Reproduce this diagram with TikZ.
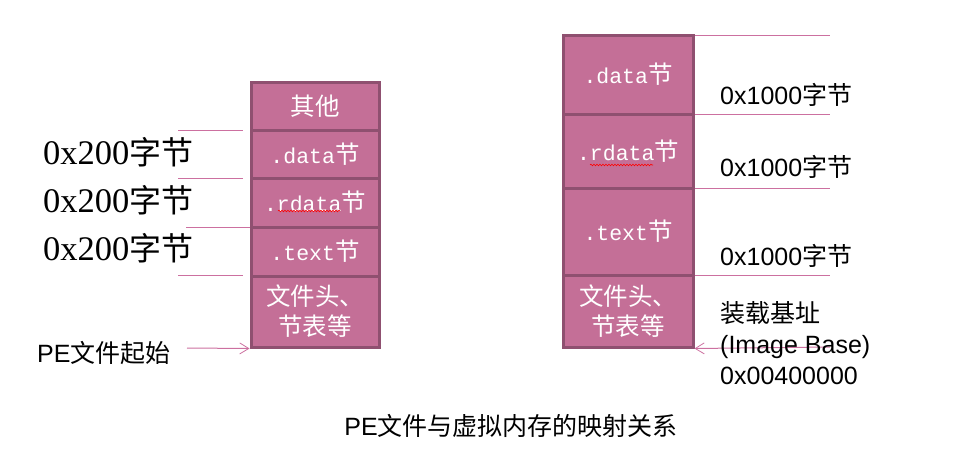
\documentclass[tikz,border=0pt]{standalone}
\usepackage{fontspec}
\setmainfont{Liberation Sans}
\newfontfamily\cjk{Noto Sans CJK SC}
\newfontfamily\monof{Liberation Mono}
\newfontfamily\seriff{Liberation Serif}
\usetikzlibrary{arrows.meta,decorations.pathmorphing}
\definecolor{cellfill}{RGB}{196,111,151}
\definecolor{celledge}{RGB}{143,80,112}
\definecolor{guide}{RGB}{204,112,160}
\newcommand{\mt}[1]{{\monof\fontsize{21.5}{30}\selectfont #1}}
\newcommand{\dg}[1]{{\seriff\fontsize{34.5}{36}\selectfont #1}}
\begin{document}
\begin{tikzpicture}[x=1pt,y=-1pt,
  cell/.style={draw=celledge, line width=3pt, fill=cellfill, text=white,
    inner sep=0pt, align=center, font=\fontsize{24.5}{30}\selectfont},
  guideline/.style={draw=guide, line width=1pt},
  guidearrow/.style={draw=guide, line width=1pt, -{Straight Barb[length=9pt,width=11pt,line width=0.8pt]}},
  leftlab/.style={anchor=west, inner sep=0pt, font=\fontsize{32}{36}\selectfont},
  rightlab/.style={anchor=west, inner sep=0pt, font=\fontsize{25}{31}\selectfont, align=left},
  squiggle/.style={draw=red, line width=0.6pt, decorate, decoration={snake, amplitude=0.8pt, segment length=3pt}}
]
\useasboundingbox (0,0) rectangle (960,453);
% left stack (PE file)
\node[cell, minimum width=128pt, minimum height=48pt] (l1) at (315,106) {\cjk 其他};
\node[cell, minimum width=128pt, minimum height=48pt] (l2) at (315,154) {\mt{.data}\cjk 节};
\node[cell, minimum width=128pt, minimum height=49pt] (l3) at (315,202.5) {\mt{.rdata}\cjk 节};
\node[cell, minimum width=128pt, minimum height=49pt] (l4) at (315,251.5) {\mt{.text}\cjk 节};
\node[cell, minimum width=128pt, minimum height=71pt] (l5) at (315,311.5) {\cjk 文件头、\\\cjk 节表等};
% right stack (memory)
\node[cell, minimum width=130pt, minimum height=79pt] (r1) at (628,74.5) {\mt{.data}\cjk 节};
\node[cell, minimum width=130pt, minimum height=74pt] (r2) at (628,151) {\mt{.rdata}\cjk 节};
\node[cell, minimum width=130pt, minimum height=87pt] (r3) at (628,231.5) {\mt{.text}\cjk 节};
\node[cell, minimum width=130pt, minimum height=72pt] (r4) at (628,311) {\cjk 文件头、\\\cjk 节表等};
% spell-check squiggles
\draw[squiggle] (278,211) -- (340,211);
\draw[squiggle] (590,165) -- (653,165);
% left guide lines
\coordinate (a1) at (178,130); \coordinate (b1) at (243,130);
\coordinate (a2) at (178,178); \coordinate (b2) at (243,178);
\coordinate (a3) at (186,227); \coordinate (b3) at (250,227);
\coordinate (a4) at (178,275); \coordinate (b4) at (243,275);
\draw[guideline] (a1) -- (b1);
\draw[guideline] (a2) -- (b2);
\draw[guideline] (a3) -- (b3);
\draw[guideline] (a4) -- (b4);
% right guide lines
\coordinate (c1) at (695,35);  \coordinate (d1) at (830,35);
\coordinate (c2) at (695,114); \coordinate (d2) at (830,114);
\coordinate (c3) at (695,188); \coordinate (d3) at (830,188);
\coordinate (c4) at (695,275); \coordinate (d4) at (830,275);
\draw[guideline] (c1) -- (d1);
\draw[guideline] (c2) -- (d2);
\draw[guideline] (c3) -- (d3);
\draw[guideline] (c4) -- (d4);
% arrows
\coordinate (pa) at (187,348);
\coordinate (qa) at (830,347);
\draw[guidearrow] (pa) -- (l5.south west);
\draw[guidearrow] (qa) -- (r4.south east);
% left labels
\node[leftlab] (s1) at (43,152) {\dg{0x200}\cjk 字节};
\node[leftlab] (s2) at (43,200) {\dg{0x200}\cjk 字节};
\node[leftlab] (s3) at (43,248) {\dg{0x200}\cjk 字节};
\node[rightlab] (pe) at (37,353) {PE\cjk 文件起始};
% right labels
\node[rightlab] (t1) at (720,95) {0x1000\cjk 字节};
\node[rightlab] (t2) at (720,167) {0x1000\cjk 字节};
\node[rightlab] (t3) at (720,256) {0x1000\cjk 字节};
\node[rightlab] (base) at (720,343) {{\cjk 装载基址}\\(Image Base)\\0x00400000};
% caption
\node[font=\fontsize{25}{30}\selectfont, inner sep=0pt] (cap) at (511,426) {PE\cjk 文件与虚拟内存的映射关系};
\end{tikzpicture}
\end{document}
